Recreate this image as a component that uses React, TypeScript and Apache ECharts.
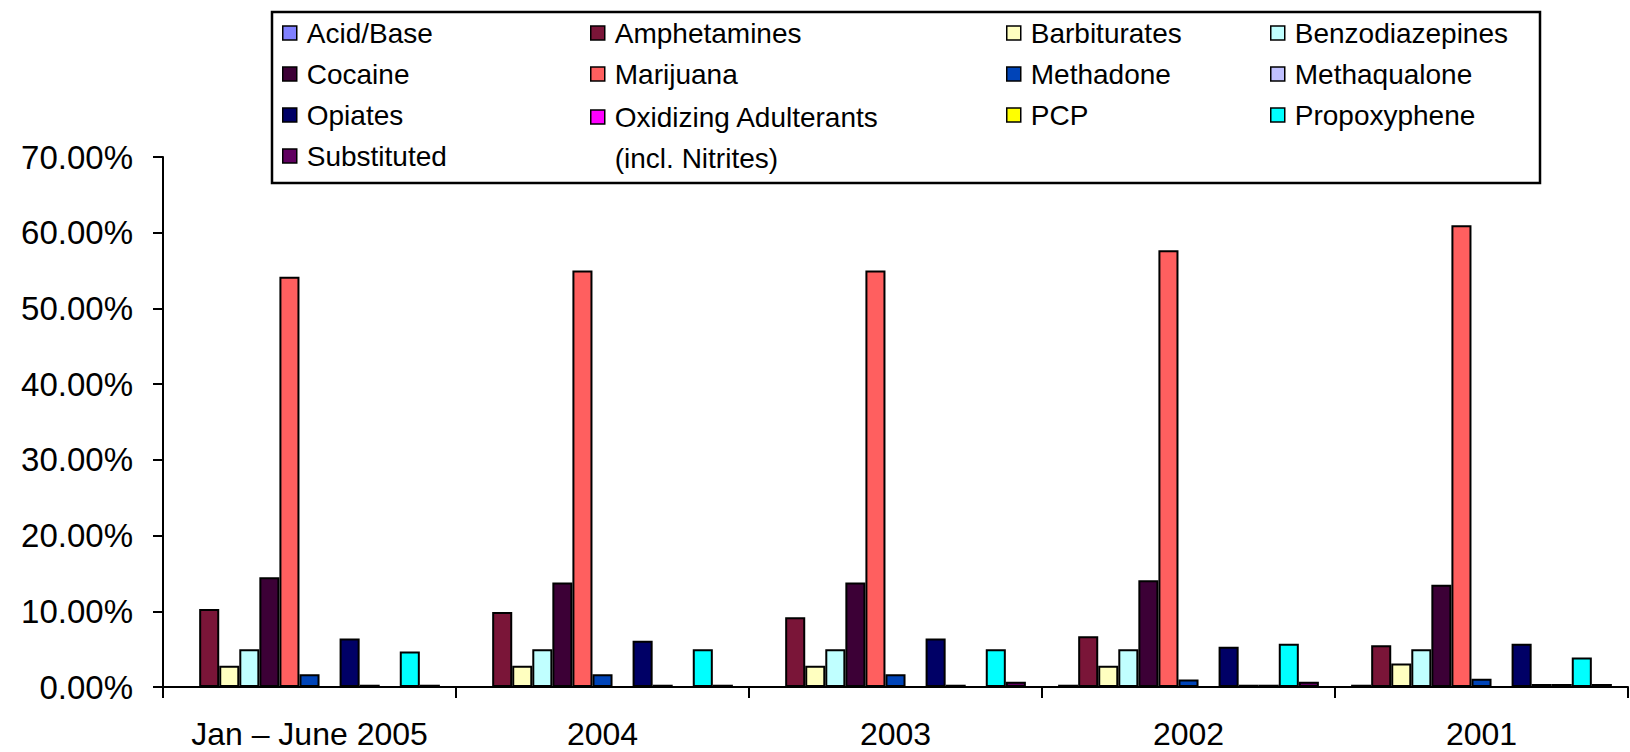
import React, { useEffect, useRef } from 'react';
import * as echarts from 'echarts';

const categories = ['Jan – June 2005', '2004', '2003', '2002', '2001'];

const seriesNames = [
  'Acid/Base',
  'Amphetamines',
  'Barbiturates',
  'Benzodiazepines',
  'Cocaine',
  'Marijuana',
  'Methadone',
  'Methaqualone',
  'Opiates',
  'Oxidizing Adulterants (incl. Nitrites)',
  'PCP',
  'Propoxyphene',
  'Substituted',
];

// values in percent
const acidBase = [0, 0, 0, 0.3, 0.3];
const amphetamines = [10.3, 9.9, 9.2, 6.7, 5.5];
const barbiturates = [2.8, 2.8, 2.8, 2.8, 3.1];
const benzodiazepines = [5.0, 5.0, 5.0, 5.0, 5.0];
const cocaine = [14.5, 13.8, 13.8, 14.1, 13.5];
const marijuana = [54.2, 55.0, 55.0, 57.7, 61.0];
const methadone = [1.7, 1.7, 1.7, 1.0, 1.1];
const methaqualone = [0, 0, 0, 0, 0];
const opiates = [6.4, 6.1, 6.4, 5.3, 5.7];
const oxidizing = [0.3, 0.3, 0.3, 0.3, 0.4];
const pcp = [0, 0, 0, 0.3, 0.4];
const propoxyphene = [4.7, 5.0, 5.0, 5.7, 3.9];
const substituted = [0.3, 0.3, 0.7, 0.7, 0.4];

const seriesValues = [
  acidBase,
  amphetamines,
  barbiturates,
  benzodiazepines,
  cocaine,
  marijuana,
  methadone,
  methaqualone,
  opiates,
  oxidizing,
  pcp,
  propoxyphene,
  substituted,
];

const palette = [
  '#8080FF',
  '#7A1538',
  '#FFFFC0',
  '#C0FFFF',
  '#3C0036',
  '#FF5F5F',
  '#0044B8',
  '#C0C0FF',
  '#000066',
  '#FF00FF',
  '#FFFF00',
  '#00FFFF',
  '#600060',
];

const yMin = 0;
const yMax = 70;
const yInterval = 10;

const FONT = '"Liberation Sans", Arial, sans-serif';

export default function App() {
  const ref = useRef<HTMLDivElement>(null);

  useEffect(() => {
    if (!ref.current) return;
    const chart = echarts.init(ref.current, null, { renderer: 'svg' });

    const legendText = {
      fontSize: 28,
      fontFamily: FONT,
      color: '#000',
      lineHeight: 41,
      rich: {
        g: { width: 5, lineHeight: 41 },
        t: { fontSize: 28, fontFamily: FONT, color: '#000', lineHeight: 41 },
      },
    };
    const legendBase = {
      orient: 'vertical' as const,
      padding: 0,
      itemGap: 0,
      itemWidth: 14,
      itemHeight: 14,
      icon: 'rect',
      selectedMode: false,
      itemStyle: { borderColor: '#000', borderWidth: 1.5 },
      textStyle: legendText,
      formatter: (name: string) => '{g|}{t|' + name + '}',
    };

    const option: any = {
      animation: false,
      backgroundColor: '#fff',
      color: palette,
      grid: { left: 163, right: 2, top: 157, bottom: 65, containLabel: false },
      graphic: [
        {
          type: 'rect',
          z: 0,
          shape: { x: 272, y: 12, width: 1268, height: 171 },
          style: { fill: '#fff', stroke: '#000', lineWidth: 2.5 },
        },
      ],
      legend: [
        { ...legendBase, left: 282, top: 12.5, data: [seriesNames[0], seriesNames[4], seriesNames[8], seriesNames[12]] },
        { ...legendBase, left: 590, top: 12.5, data: [seriesNames[1], seriesNames[5]] },
        {
          ...legendBase,
          left: 590,
          top: 55.5,
          data: [seriesNames[9]],
          formatter: () => '{t|}\n{g|}{t|Oxidizing Adulterants}\n{g|}{t|(incl. Nitrites)}',
        },
        { ...legendBase, left: 1006, top: 12.5, data: [seriesNames[2], seriesNames[6], seriesNames[10]] },
        { ...legendBase, left: 1270, top: 12.5, data: [seriesNames[3], seriesNames[7], seriesNames[11]] },
      ],
      xAxis: {
        type: 'category',
        data: categories,
        axisLine: { show: true, lineStyle: { color: '#000', width: 2 } },
        axisTick: { show: true, length: 11, interval: 0, alignWithLabel: false, lineStyle: { color: '#000', width: 2 } },
        axisLabel: { interval: 0, fontSize: 32, fontFamily: FONT, color: '#000', margin: 32, lineHeight: 30 },
        splitLine: { show: false },
      },
      yAxis: {
        type: 'value',
        min: yMin,
        max: yMax,
        interval: yInterval,
        axisLine: { show: true, lineStyle: { color: '#000', width: 2 } },
        axisTick: { show: true, length: 10, lineStyle: { color: '#000', width: 2 } },
        axisLabel: {
          fontSize: 33,
          fontFamily: FONT,
          color: '#000',
          margin: 30,
          formatter: (v: number) => v.toFixed(2) + '%',
        },
        splitLine: { show: false },
      },
      series: seriesNames.map((name, i) => ({
        name,
        type: 'bar',
        data: seriesValues[i],
        barGap: '0%',
        barCategoryGap: '11%',
        itemStyle: { color: palette[i], borderColor: '#000', borderWidth: 2 },
      })),
    };

    chart.setOption(option);
    return () => chart.dispose();
  }, []);

  return (
    <div
      ref={ref}
      style={{ position: 'absolute', left: 0, top: 0, width: 1630, height: 752 }}
    />
  );
}
